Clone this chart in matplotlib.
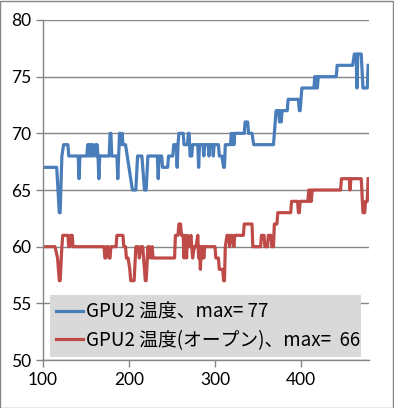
import matplotlib.pyplot as plt
from matplotlib.patches import Rectangle

gpu_x = [100, 116, 119, 120, 122, 124, 129, 130, 141, 142, 143, 151, 152, 153, 154, 155,
         156, 157, 158, 159, 161, 162, 163, 164, 165, 166, 177, 178, 179, 180, 186, 187,
         189, 190, 191, 192, 193, 196, 198, 200, 202, 204, 208, 210, 215, 218, 220, 222,
         233, 234, 235, 238, 239, 245, 246, 251, 252, 255, 256, 257, 258, 263, 264, 268,
         269, 270, 271, 273, 274, 280, 281, 282, 286, 287, 288, 292, 293, 294, 297, 298,
         299, 304, 305, 308, 310, 311, 312, 318, 319, 320, 321, 322, 323, 334, 335, 338,
         339, 343, 345, 368, 370, 371, 374, 375, 376, 377, 378, 379, 384, 385, 397, 398,
         399, 401, 415, 416, 417, 418, 419, 420, 441, 442, 460, 462, 464, 465, 466, 467,
         470, 472, 476, 477, 478]
gpu_y = [67, 67, 63, 63, 68, 69, 69, 68, 68, 66, 68, 68, 69, 68, 69, 68,
         69, 68, 69, 68, 69, 68, 69, 68, 66, 68, 68, 70, 70, 68, 68, 66,
         70, 70, 69, 70, 69, 69, 68, 67, 66, 65, 65, 68, 68, 65, 65, 68,
         68, 66, 68, 68, 67, 67, 68, 68, 69, 69, 67, 69, 70, 70, 69, 69,
         70, 70, 68, 68, 69, 69, 67, 69, 69, 68, 69, 69, 68, 69, 69, 68,
         69, 69, 68, 68, 67, 67, 69, 69, 70, 69, 70, 69, 70, 70, 71, 71,
         70, 70, 69, 69, 71, 72, 72, 71, 72, 71, 72, 72, 72, 73, 73, 72,
         72, 74, 74, 75, 74, 75, 74, 75, 75, 76, 76, 77, 77, 74, 77, 77,
         77, 74, 74, 74, 76]

# GPU2 temperature (open), red
open_x = [100, 114, 117, 119, 120, 122, 123, 129, 130, 131, 132, 134, 135, 171, 172, 173,
          174, 176, 177, 178, 179, 185, 186, 193, 194, 196, 197, 199, 201, 202, 206, 208,
          211, 212, 214, 216, 219, 220, 222, 223, 224, 226, 227, 228, 229, 253, 254, 257,
          258, 260, 261, 263, 264, 265, 267, 268, 270, 272, 274, 276, 278, 280, 281, 282,
          283, 284, 285, 286, 287, 288, 300, 301, 304, 305, 309, 310, 311, 312, 314, 316,
          317, 319, 320, 322, 323, 333, 334, 343, 344, 353, 354, 357, 358, 361, 362, 365,
          366, 368, 369, 372, 373, 388, 389, 396, 397, 398, 399, 408, 409, 410, 411, 412,
          413, 415, 446, 447, 456, 457, 458, 470, 472, 474, 475, 477, 478]
open_y = [60, 60, 59, 57, 57, 60, 61, 61, 60, 60, 61, 61, 60, 60, 59, 59,
          60, 60, 59, 59, 60, 60, 61, 61, 60, 60, 59, 59, 58, 57, 57, 60,
          60, 59, 60, 60, 57, 57, 60, 59, 60, 59, 60, 59, 59, 59, 61, 61,
          62, 62, 61, 61, 59, 61, 59, 61, 60, 61, 59, 60, 60, 61, 59, 60,
          58, 60, 59, 60, 59, 60, 60, 59, 59, 58, 58, 57, 57, 60, 61, 61,
          60, 61, 61, 60, 61, 61, 62, 62, 60, 60, 61, 61, 60, 60, 61, 61,
          60, 60, 62, 62, 63, 63, 64, 64, 63, 63, 64, 64, 65, 64, 65, 64,
          65, 65, 65, 66, 66, 65, 66, 66, 63, 63, 64, 64, 66]

labels = ["GPU2 温度、max= 77", "GPU2 温度(オープン)、max=  66"]
x_ticks = [100, 200, 300, 400]
y_ticks = [50, 55, 60, 65, 70, 75, 80]

grey = "#868686"

fig = plt.figure(figsize=(3.94, 4.08), dpi=100)
ax = fig.add_axes([0.109, 0.1176, 0.8275, 0.8334])

ax.plot(gpu_x, gpu_y, color="#4a7ebb", lw=2.3, label=labels[0], solid_joinstyle="round")
ax.plot(open_x, open_y, color="#be4b48", lw=2.3, label=labels[1], solid_joinstyle="round")

ax.set_xlim(100, 479)
ax.set_ylim(50, 80)
ax.set_xticks(x_ticks)
ax.set_yticks(y_ticks)
ax.grid(axis="y", color=grey, lw=1)
ax.set_axisbelow(True)
for s in ["top", "right"]:
    ax.spines[s].set_visible(False)
for s in ["left", "bottom"]:
    ax.spines[s].set_color(grey)
    ax.spines[s].set_linewidth(1)
ax.tick_params(colors=grey, length=5, width=1, labelcolor="black", labelsize=12.5)
for t in ax.get_xticklabels() + ax.get_yticklabels():
    t.set_family("Lato")

leg = ax.legend(loc="lower left", bbox_to_anchor=(0.0215, 0.0088, 0.954, 0.19), mode="expand",
                prop={"family": ["Noto Sans CJK JP", "DejaVu Sans"], "size": 13.5},
                frameon=True, fancybox=False, handlelength=1.45, handletextpad=0.15,
                borderpad=0.33, labelspacing=0.4, borderaxespad=0)
leg.get_frame().set_facecolor("#d9d9d9")
leg.get_frame().set_edgecolor("none")
leg.get_frame().set_alpha(1)

fig.patches.append(Rectangle((0.001, 0.001), 0.997, 0.997, transform=fig.transFigure,
                             fill=False, edgecolor=grey, lw=1))

fig.savefig("out.png", dpi=100)
